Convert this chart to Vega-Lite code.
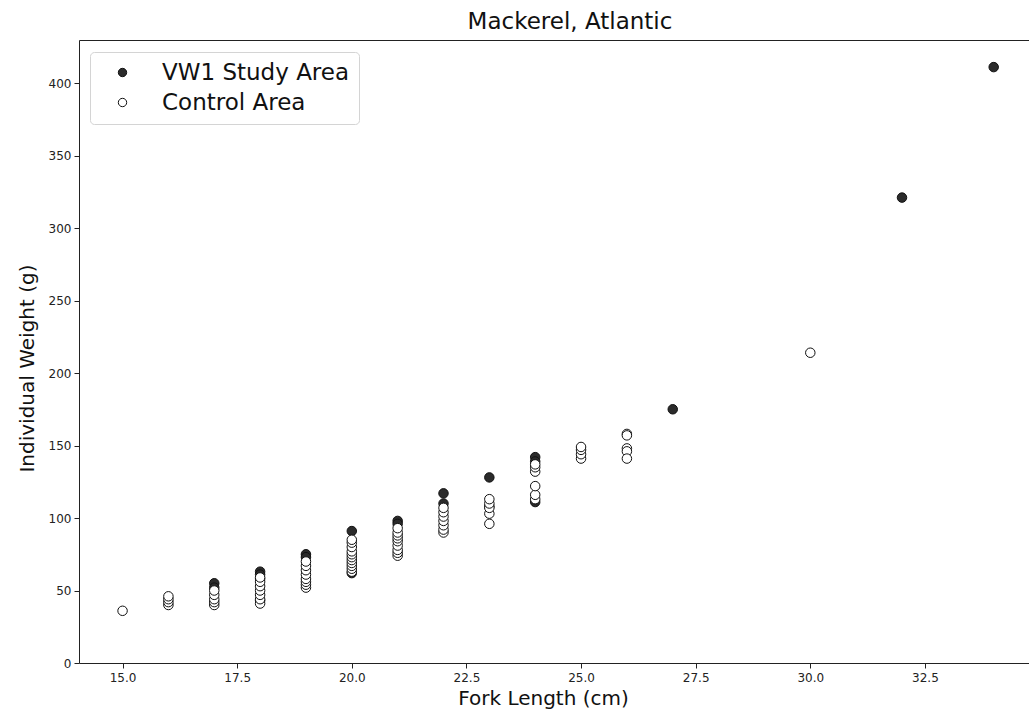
{
  "$schema": "https://vega.github.io/schema/vega-lite/v6.json",
  "width": 950,
  "height": 623,
  "autosize": {"type": "none"},
  "padding": {"left": 79, "top": 40, "right": 0, "bottom": 56},
  "background": "white",
  "title": {
    "text": "Mackerel, Atlantic",
    "fontSize": 23,
    "font": "DejaVu Sans",
    "fontWeight": "normal",
    "color": "#111111",
    "anchor": "middle",
    "dx": 16,
    "offset": 6
  },
  "config": {
    "view": {"stroke": null},
    "font": "DejaVu Sans",
    "axis": {
      "grid": false,
      "domainColor": "#222222",
      "domainWidth": 1,
      "tickColor": "#222222",
      "tickSize": 5,
      "labelFont": "DejaVu Sans",
      "labelFontSize": 12,
      "labelColor": "#222222",
      "titleFont": "DejaVu Sans",
      "titleFontSize": 20,
      "titleFontWeight": "normal",
      "titleColor": "#111111"
    }
  },
  "data": {
    "values": [
      {"len": 15, "w": 36, "area": "Control Area"},
      {"len": 16, "w": 40, "area": "Control Area"},
      {"len": 16, "w": 42, "area": "Control Area"},
      {"len": 16, "w": 44, "area": "Control Area"},
      {"len": 16, "w": 46, "area": "Control Area"},
      {"len": 17, "w": 55, "area": "VW1 Study Area"},
      {"len": 17, "w": 52, "area": "VW1 Study Area"},
      {"len": 17, "w": 40, "area": "Control Area"},
      {"len": 17, "w": 42, "area": "Control Area"},
      {"len": 17, "w": 44, "area": "Control Area"},
      {"len": 17, "w": 47, "area": "Control Area"},
      {"len": 17, "w": 50, "area": "Control Area"},
      {"len": 18, "w": 63, "area": "VW1 Study Area"},
      {"len": 18, "w": 61, "area": "VW1 Study Area"},
      {"len": 18, "w": 58, "area": "VW1 Study Area"},
      {"len": 18, "w": 43, "area": "VW1 Study Area"},
      {"len": 18, "w": 41, "area": "Control Area"},
      {"len": 18, "w": 44, "area": "Control Area"},
      {"len": 18, "w": 47, "area": "Control Area"},
      {"len": 18, "w": 50, "area": "Control Area"},
      {"len": 18, "w": 53, "area": "Control Area"},
      {"len": 18, "w": 56, "area": "Control Area"},
      {"len": 18, "w": 59, "area": "Control Area"},
      {"len": 19, "w": 75, "area": "VW1 Study Area"},
      {"len": 19, "w": 73, "area": "VW1 Study Area"},
      {"len": 19, "w": 52, "area": "Control Area"},
      {"len": 19, "w": 54, "area": "Control Area"},
      {"len": 19, "w": 56, "area": "Control Area"},
      {"len": 19, "w": 58, "area": "Control Area"},
      {"len": 19, "w": 61, "area": "Control Area"},
      {"len": 19, "w": 64, "area": "Control Area"},
      {"len": 19, "w": 67, "area": "Control Area"},
      {"len": 19, "w": 70, "area": "Control Area"},
      {"len": 20, "w": 91, "area": "VW1 Study Area"},
      {"len": 20, "w": 62, "area": "VW1 Study Area"},
      {"len": 20, "w": 63, "area": "Control Area"},
      {"len": 20, "w": 65, "area": "Control Area"},
      {"len": 20, "w": 67, "area": "Control Area"},
      {"len": 20, "w": 69, "area": "Control Area"},
      {"len": 20, "w": 71, "area": "Control Area"},
      {"len": 20, "w": 73, "area": "Control Area"},
      {"len": 20, "w": 75, "area": "Control Area"},
      {"len": 20, "w": 77, "area": "Control Area"},
      {"len": 20, "w": 80, "area": "Control Area"},
      {"len": 20, "w": 83, "area": "Control Area"},
      {"len": 20, "w": 85, "area": "Control Area"},
      {"len": 21, "w": 98, "area": "VW1 Study Area"},
      {"len": 21, "w": 96, "area": "VW1 Study Area"},
      {"len": 21, "w": 74, "area": "Control Area"},
      {"len": 21, "w": 76, "area": "Control Area"},
      {"len": 21, "w": 78, "area": "Control Area"},
      {"len": 21, "w": 81, "area": "Control Area"},
      {"len": 21, "w": 84, "area": "Control Area"},
      {"len": 21, "w": 86, "area": "Control Area"},
      {"len": 21, "w": 88, "area": "Control Area"},
      {"len": 21, "w": 90, "area": "Control Area"},
      {"len": 21, "w": 93, "area": "Control Area"},
      {"len": 22, "w": 117, "area": "VW1 Study Area"},
      {"len": 22, "w": 110, "area": "VW1 Study Area"},
      {"len": 22, "w": 90, "area": "Control Area"},
      {"len": 22, "w": 92, "area": "Control Area"},
      {"len": 22, "w": 95, "area": "Control Area"},
      {"len": 22, "w": 98, "area": "Control Area"},
      {"len": 22, "w": 101, "area": "Control Area"},
      {"len": 22, "w": 104, "area": "Control Area"},
      {"len": 22, "w": 107, "area": "Control Area"},
      {"len": 23, "w": 128, "area": "VW1 Study Area"},
      {"len": 23, "w": 108, "area": "VW1 Study Area"},
      {"len": 23, "w": 96, "area": "Control Area"},
      {"len": 23, "w": 103, "area": "Control Area"},
      {"len": 23, "w": 107, "area": "Control Area"},
      {"len": 23, "w": 110, "area": "Control Area"},
      {"len": 23, "w": 113, "area": "Control Area"},
      {"len": 24, "w": 142, "area": "VW1 Study Area"},
      {"len": 24, "w": 139, "area": "VW1 Study Area"},
      {"len": 24, "w": 111, "area": "VW1 Study Area"},
      {"len": 24, "w": 113, "area": "Control Area"},
      {"len": 24, "w": 116, "area": "Control Area"},
      {"len": 24, "w": 122, "area": "Control Area"},
      {"len": 24, "w": 132, "area": "Control Area"},
      {"len": 24, "w": 135, "area": "Control Area"},
      {"len": 24, "w": 137, "area": "Control Area"},
      {"len": 25, "w": 141, "area": "Control Area"},
      {"len": 25, "w": 144, "area": "Control Area"},
      {"len": 25, "w": 147, "area": "Control Area"},
      {"len": 25, "w": 149, "area": "Control Area"},
      {"len": 26, "w": 158, "area": "Control Area"},
      {"len": 26, "w": 157, "area": "Control Area"},
      {"len": 26, "w": 148, "area": "Control Area"},
      {"len": 26, "w": 146, "area": "Control Area"},
      {"len": 26, "w": 141, "area": "Control Area"},
      {"len": 27, "w": 175, "area": "VW1 Study Area"},
      {"len": 30, "w": 214, "area": "Control Area"},
      {"len": 32, "w": 321, "area": "VW1 Study Area"},
      {"len": 34, "w": 411, "area": "VW1 Study Area"}
    ]
  },
  "encoding": {
    "x": {
      "field": "len",
      "type": "quantitative",
      "scale": {"domain": [14.05, 34.77], "nice": false, "zero": false},
      "axis": {
        "title": "Fork Length (cm)",
        "values": [15, 17.5, 20, 22.5, 25, 27.5, 30, 32.5],
        "format": ".1f",
        "labelPadding": 4,
        "titlePadding": 5,
        "titleX": 464
      }
    },
    "y": {
      "field": "w",
      "type": "quantitative",
      "scale": {"domain": [0, 429.7], "nice": false},
      "axis": {
        "title": "Individual Weight (g)",
        "values": [0, 50, 100, 150, 200, 250, 300, 350, 400],
        "labelPadding": 3,
        "titlePadding": 11,
        "titleY": 328
      }
    },
    "fill": {
      "field": "area",
      "type": "nominal",
      "scale": {
        "domain": ["VW1 Study Area", "Control Area"],
        "range": ["#2b2b2b", "#ffffff"]
      },
      "legend": {
        "title": null,
        "orient": "none",
        "legendX": 11,
        "legendY": 12,
        "labelFontSize": 23,
        "labelFont": "DejaVu Sans",
        "labelColor": "#111111",
        "labelLimit": 400,
        "symbolType": "circle",
        "symbolSize": 70,
        "symbolStrokeColor": "#111111",
        "symbolStrokeWidth": 1,
        "symbolOffset": 12,
        "labelOffset": 28,
        "rowPadding": 6,
        "padding": 9,
        "fillColor": "white",
        "strokeColor": "#d4d4d4",
        "cornerRadius": 4
      }
    }
  },
  "layer": [
    {
      "transform": [{"filter": "datum.area === 'VW1 Study Area'"}],
      "mark": {"type": "point", "filled": false, "shape": "circle", "size": 90, "stroke": "#111111", "strokeWidth": 1, "opacity": 1, "fillOpacity": 1}
    },
    {
      "transform": [{"filter": "datum.area === 'Control Area'"}],
      "mark": {"type": "point", "filled": false, "shape": "circle", "size": 90, "stroke": "#111111", "strokeWidth": 1, "opacity": 1, "fillOpacity": 1},
      "encoding": {
        "x": {
          "field": "len",
          "type": "quantitative",
          "axis": {"orient": "top", "title": null, "labels": false, "ticks": false, "domain": true}
        }
      }
    }
  ],
  "resolve": {"axis": {"x": "independent"}}
}
